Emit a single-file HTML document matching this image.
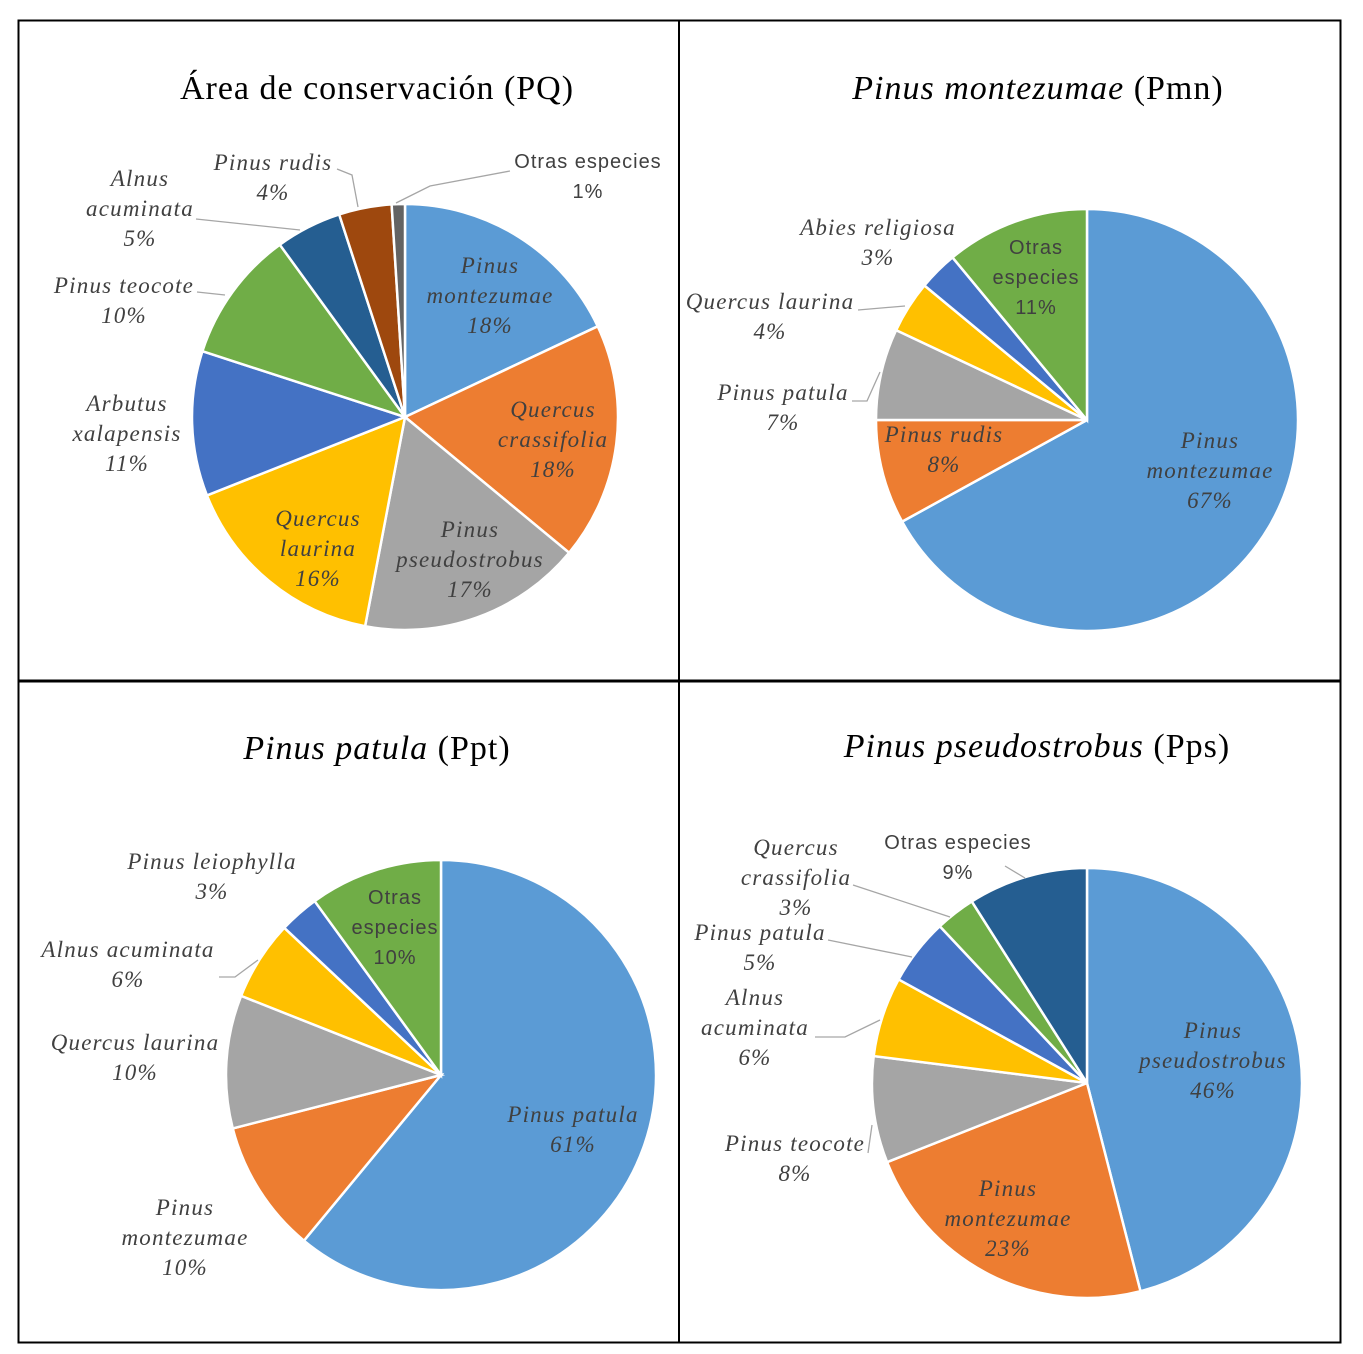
<!DOCTYPE html>
<html><head><meta charset="utf-8"><style>
html,body{margin:0;padding:0;background:#fff}
svg{display:block}
.lbl{font-family:"Liberation Serif",serif;font-style:italic;font-size:23px;letter-spacing:1.2px;fill:#404040}
.sans{font-family:"Liberation Sans",sans-serif;font-style:normal;font-size:20px;letter-spacing:1px;fill:#404040}
.ttl{font-family:"Liberation Serif",serif;font-size:34px;letter-spacing:1px;fill:#000}
.lead{stroke:#a6a6a6;stroke-width:1.3;fill:none}
</style></head><body>
<svg id="root" width="1363" height="1354" viewBox="0 0 1363 1354">
<rect x="18.5" y="20.5" width="1322" height="1322" fill="none" stroke="#000" stroke-width="2"/>
<line x1="679" y1="20" x2="679" y2="1342" stroke="#000" stroke-width="2"/>
<line x1="18" y1="681" x2="1341" y2="681" stroke="#000" stroke-width="3"/>
<text class="ttl" x="377" y="99" text-anchor="middle">Área de conservación (PQ)</text>
<text class="ttl" x="1038" y="99" text-anchor="middle"><tspan font-style="italic">Pinus montezumae</tspan> (Pmn)</text>
<text class="ttl" x="377" y="759" text-anchor="middle"><tspan font-style="italic">Pinus patula</tspan> (Ppt)</text>
<text class="ttl" x="1037" y="757" text-anchor="middle"><tspan font-style="italic">Pinus pseudostrobus</tspan> (Pps)</text>
<polyline class="lead" points="197,292 225,295"/>
<polyline class="lead" points="196,219 300,230"/>
<polyline class="lead" points="337,169 352,175 358,207"/>
<polyline class="lead" points="510,171 430,186 396,203"/>
<polyline class="lead" points="852,401 867,401 880,372"/>
<polyline class="lead" points="858,310 905,306"/>
<polyline class="lead" points="219,977 235,977 258,960"/>
<polyline class="lead" points="853,885 950,917"/>
<polyline class="lead" points="828,940 912,957"/>
<polyline class="lead" points="815,1037 845,1037 880,1020"/>
<polyline class="lead" points="868,1153 872,1125"/>
<polyline class="lead" points="1005,866 1025,878"/>
</svg>
<script>
// Chart 1: Área de conservación (PQ)
const pqCategories = ["Pinus montezumae","Quercus crassifolia","Pinus pseudostrobus","Quercus laurina","Arbutus xalapensis","Pinus teocote","Alnus acuminata","Pinus rudis","Otras especies"];
const pqValues = [18,18,17,16,11,10,5,4,1];
// Chart 2: Pinus montezumae (Pmn)
const pmnCategories = ["Pinus montezumae","Pinus rudis","Pinus patula","Quercus laurina","Abies religiosa","Otras especies"];
const pmnValues = [67,8,7,4,3,11];
// Chart 3: Pinus patula (Ppt)
const pptCategories = ["Pinus patula","Pinus montezumae","Quercus laurina","Alnus acuminata","Pinus leiophylla","Otras especies"];
const pptValues = [61,10,10,6,3,10];
// Chart 4: Pinus pseudostrobus (Pps)
const ppsCategories = ["Pinus pseudostrobus","Pinus montezumae","Pinus teocote","Alnus acuminata","Pinus patula","Quercus crassifolia","Otras especies"];
const ppsValues = [46,23,8,6,5,3,9];

const NS="http://www.w3.org/2000/svg";
const root=document.getElementById('root');
const COLORS={blue:"#5B9BD5",orange:"#ED7D31",gray:"#A5A5A5",yellow:"#FFC000",blue2:"#4472C4",green:"#70AD47",navy:"#255E91",brown:"#9E480E",dgray:"#636363"};

function drawPie(id,cx,cy,r,values,cats,colors,labels){
  const g=document.createElementNS(NS,'g');
  
  
  root.insertBefore(g,root.children[3]);
  const total=values.reduce((a,b)=>a+b,0);
  let acc=0;
  values.forEach((v,i)=>{
    const a0=acc/total*2*Math.PI; acc+=v; const a1=acc/total*2*Math.PI;
    const x0=cx+r*Math.sin(a0), y0=cy-r*Math.cos(a0);
    const x1=cx+r*Math.sin(a1), y1=cy-r*Math.cos(a1);
    const large=(a1-a0)>Math.PI?1:0;
    const p=document.createElementNS(NS,'path');
    p.setAttribute('d',`M${cx},${cy} L${x0},${y0} A${r},${r} 0 ${large} 1 ${x1},${y1} Z`);
    p.setAttribute('fill',COLORS[colors[i]]);
    p.setAttribute('stroke','#fff');
    p.setAttribute('stroke-width','2.5');
    
    
    g.appendChild(p);
  });
  labels.forEach((L,i)=>{
    const lines=L.lines.slice();
    lines.push(values[L.idx]+'%');
    const t=document.createElementNS(NS,'text');
    t.setAttribute('class',L.sans?'lbl sans':'lbl');
    t.setAttribute('text-anchor','middle');
    
    
    lines.forEach((s,k)=>{
      const ts=document.createElementNS(NS,'tspan');
      ts.setAttribute('x',L.x);
      ts.setAttribute('y',L.y+k*30);
      ts.textContent=s;
      t.appendChild(ts);
    });
    root.appendChild(t);
  });
}

drawPie('pq',405,417,213,pqValues,pqCategories,["blue","orange","gray","yellow","blue2","green","navy","brown","dgray"],[
 {idx:0,lines:["Pinus","montezumae"],x:490,y:273},
 {idx:1,lines:["Quercus","crassifolia"],x:553,y:417},
 {idx:2,lines:["Pinus","pseudostrobus"],x:470,y:537},
 {idx:3,lines:["Quercus","laurina"],x:318,y:526},
 {idx:4,lines:["Arbutus","xalapensis"],x:127,y:411},
 {idx:5,lines:["Pinus teocote"],x:124,y:293},
 {idx:6,lines:["Alnus","acuminata"],x:140,y:186},
 {idx:7,lines:["Pinus rudis"],x:273,y:170},
 {idx:8,lines:["Otras especies"],x:588,y:168,sans:true}
]);
drawPie('pmn',1087,420,211,pmnValues,pmnCategories,["blue","orange","gray","yellow","blue2","green"],[
 {idx:0,lines:["Pinus","montezumae"],x:1210,y:448},
 {idx:1,lines:["Pinus rudis"],x:944,y:442},
 {idx:2,lines:["Pinus patula"],x:783,y:400},
 {idx:3,lines:["Quercus laurina"],x:770,y:309},
 {idx:4,lines:["Abies religiosa"],x:878,y:235},
 {idx:5,lines:["Otras","especies"],x:1036,y:254,sans:true}
]);
drawPie('ppt',441,1075,215,pptValues,pptCategories,["blue","orange","gray","yellow","blue2","green"],[
 {idx:0,lines:["Pinus patula"],x:573,y:1122},
 {idx:1,lines:["Pinus","montezumae"],x:185,y:1215},
 {idx:2,lines:["Quercus laurina"],x:135,y:1050},
 {idx:3,lines:["Alnus acuminata"],x:128,y:957},
 {idx:4,lines:["Pinus leiophylla"],x:212,y:869},
 {idx:5,lines:["Otras","especies"],x:395,y:904,sans:true}
]);
drawPie('pps',1087,1083,215,ppsValues,ppsCategories,["blue","orange","gray","yellow","blue2","green","navy"],[
 {idx:0,lines:["Pinus","pseudostrobus"],x:1213,y:1038},
 {idx:1,lines:["Pinus","montezumae"],x:1008,y:1196},
 {idx:2,lines:["Pinus teocote"],x:795,y:1151},
 {idx:3,lines:["Alnus","acuminata"],x:755,y:1005},
 {idx:4,lines:["Pinus patula"],x:760,y:940},
 {idx:5,lines:["Quercus","crassifolia"],x:796,y:855},
 {idx:6,lines:["Otras especies"],x:958,y:849,sans:true}
]);
</script>
</body></html>
